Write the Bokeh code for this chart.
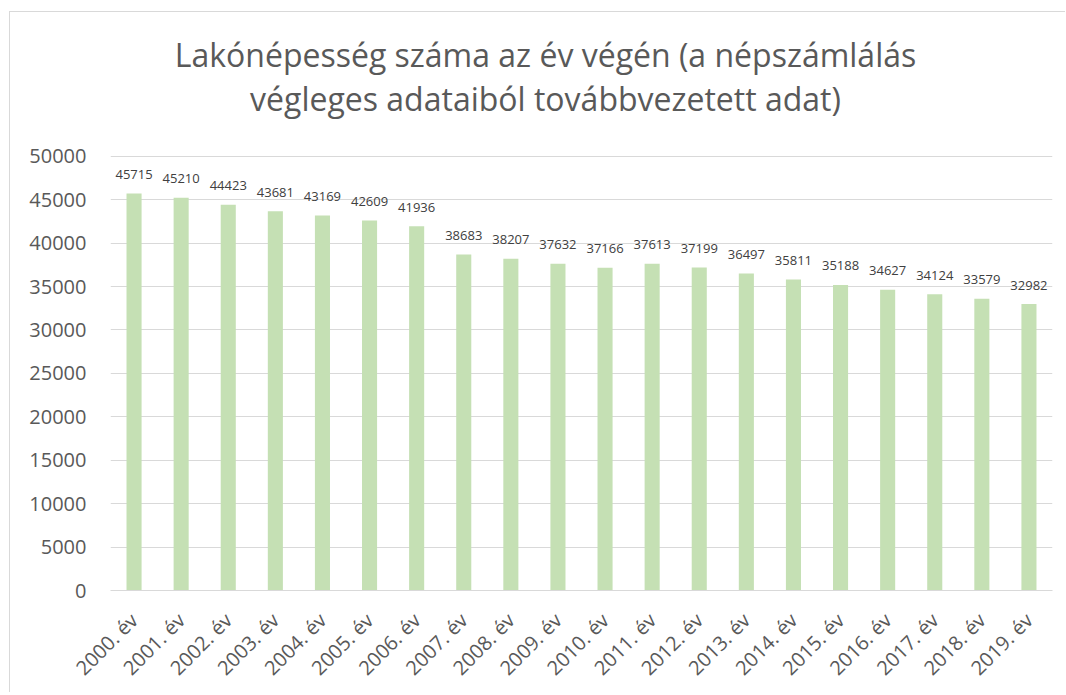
import math
from bokeh.plotting import figure
from bokeh.models import ColumnDataSource, LabelSet, Label, FactorRange, Range1d, FixedTicker
from bokeh.core.properties import value
from bokeh.embed import file_html
from bokeh.resources import INLINE

years = ["2000. év", "2001. év", "2002. év", "2003. év", "2004. év", "2005. év", "2006. év",
         "2007. év", "2008. év", "2009. év", "2010. év", "2011. év", "2012. év", "2013. év",
         "2014. év", "2015. év", "2016. év", "2017. év", "2018. év", "2019. év"]
population = [45715, 45210, 44423, 43681, 43169, 42609, 41936, 38683, 38207, 37632,
              37166, 37613, 37199, 36497, 35811, 35188, 34627, 34124, 33579, 32982]
y_ticks = [0, 5000, 10000, 15000, 20000, 25000, 30000, 35000, 40000, 45000, 50000]
title_lines = ["Lakónépesség száma az év végén (a népszámlálás",
               "végleges adataiból továbbvezetett adat)"]

FONT = "Open Sans"
GRID = "#d9d9d9"
TXT = "#595959"

# layout (pixels): figure height, bottom border, height of the 0..max-tick band
FIG_H = 681
BOTTOM = 102
AXIS_PX = 435
y_max = y_ticks[-1]
y_end = y_max * (FIG_H - BOTTOM) / AXIS_PX  # extra room above top tick for the title

src = ColumnDataSource(dict(x=years, y=population, lbl=[str(v) for v in population]))

p = figure(x_range=FactorRange(*years, range_padding=0), y_range=Range1d(0, y_end),
           width=1056, height=FIG_H, output_backend="svg", toolbar_location=None,
           min_border_left=100, min_border_right=14, min_border_top=0, min_border_bottom=BOTTOM)
p.styles = {"border-left": f"1px solid {GRID}", "border-top": f"1px solid {GRID}",
            "margin-left": "9px", "margin-top": "11px"}

p.vbar(x="x", top="y", width=0.32, source=src, fill_color="#c5e0b4", line_color=None)

labels = LabelSet(x="x", y="y", text="lbl", source=src, text_align="center",
                  text_baseline="middle", y_offset=19, text_font=value(FONT),
                  text_font_size="13px", text_color="#404040")
p.add_layout(labels)

p.title.visible = False
for t, off in zip(title_lines, [102, 58]):
    p.add_layout(Label(x=len(years) / 2, y=y_max, x_offset=-36, y_offset=off, text=t,
                       text_align="center", text_baseline="alphabetic", text_font=FONT,
                       text_font_size="32px", text_color=TXT))

p.outline_line_color = None
p.xgrid.grid_line_color = None
p.ygrid.grid_line_color = GRID
p.ygrid.grid_line_width = 1
p.yaxis.ticker = FixedTicker(ticks=y_ticks)

p.yaxis.axis_line_color = None
p.yaxis.major_tick_line_color = None
p.yaxis.minor_tick_line_color = None
p.yaxis.major_tick_out = 0
p.yaxis.major_label_standoff = 24
p.yaxis.major_label_text_font = FONT
p.yaxis.major_label_text_font_size = "20px"
p.yaxis.major_label_text_color = TXT

p.xaxis.axis_line_color = GRID
p.xaxis.axis_line_width = 1
p.xaxis.major_tick_line_color = None
p.xaxis.minor_tick_line_color = None
p.xaxis.major_label_orientation = math.pi / 4
p.xaxis.major_label_standoff = 20
p.xaxis.major_label_text_font = FONT
p.xaxis.major_label_text_font_size = "20px"
p.xaxis.major_label_text_color = TXT

open("out.html", "w").write(file_html(p, INLINE))
